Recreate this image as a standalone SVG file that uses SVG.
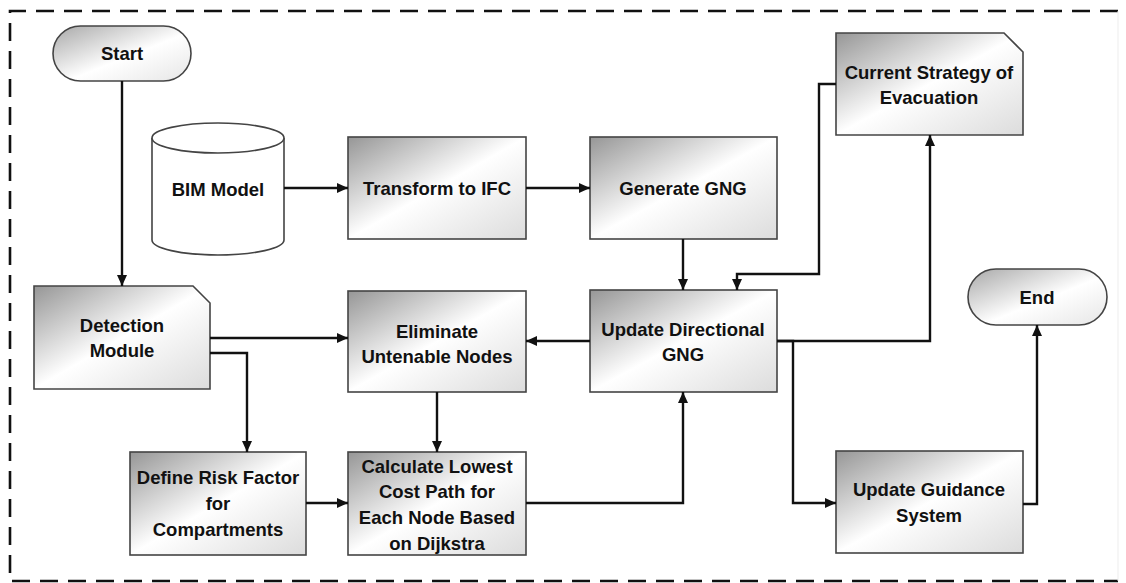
<svg xmlns="http://www.w3.org/2000/svg" width="1126" height="583" viewBox="0 0 1126 583">
<defs>
<linearGradient id="g" x1="0" y1="0" x2="1" y2="1">
<stop offset="0" stop-color="#969696"/>
<stop offset="0.5" stop-color="#ffffff"/>
<stop offset="1" stop-color="#dcdcdc"/>
</linearGradient>
<linearGradient id="gp" x1="0" y1="0" x2="1" y2="1">
<stop offset="0" stop-color="#a8a8a8"/>
<stop offset="0.55" stop-color="#ffffff"/>
<stop offset="1" stop-color="#e6e6e6"/>
</linearGradient>
<marker id="ah" markerWidth="12" markerHeight="12" refX="11" refY="6" orient="auto" markerUnits="userSpaceOnUse">
<path d="M0,1 L11,6 L0,11 Z" fill="#111"/>
</marker>
</defs>
<style>
.box{fill:url(#g);stroke:#444;stroke-width:1.6}
.pill{fill:url(#gp);stroke:#444;stroke-width:1.6}
.cyl{fill:#fff;stroke:#444;stroke-width:1.6}
.t{font-family:"Liberation Sans",Arial,sans-serif;font-weight:bold;font-size:18.5px;fill:#111;text-anchor:middle;dominant-baseline:central}
.c{fill:none;stroke:#111;stroke-width:2.4;marker-end:url(#ah)}
.border{fill:none;stroke:#111;stroke-width:2.6;stroke-dasharray:18 10}
</style>
<rect width="1126" height="583" fill="#fff"/>
<g id="frame">
<path class="border" d="M1118,11 H10 V581 H1118"/>
<line x1="1118" y1="11" x2="1118" y2="581" stroke="#ededed" stroke-width="1"/>
</g>
<g id="start">
<rect class="pill" x="53" y="26" width="138" height="55" rx="27.5"/>
<text class="t" x="122" y="53">Start</text>
</g>
<g id="bim">
<path class="cyl" d="M152,138 A66,15 0 0 1 284,138 V240 A66,15 0 0 1 152,240 Z"/>
<path class="cyl" d="M152,138 A66,15 0 0 0 284,138" fill="none"/>
<text class="t" x="218" y="189">BIM Model</text>
</g>
<g id="transform">
<rect class="box" x="348" y="137" width="178" height="102"/>
<text class="t" x="437" y="188">Transform to IFC</text>
</g>
<g id="generate">
<rect class="box" x="590" y="137" width="187" height="102"/>
<text class="t" x="683" y="188">Generate GNG</text>
</g>
<g id="strategy">
<path class="box" d="M836,33 H1004 L1023,52 V135 H836 Z"/>
<text class="t" x="929" y="72">Current Strategy of</text>
<text class="t" x="929" y="97">Evacuation</text>
</g>
<g id="detection">
<path class="box" d="M34,286 H193 L210,303 V389 H34 Z"/>
<text class="t" x="122" y="325">Detection</text>
<text class="t" x="122" y="350">Module</text>
</g>
<g id="eliminate">
<rect class="box" x="348" y="291" width="178" height="101"/>
<text class="t" x="437" y="331">Eliminate</text>
<text class="t" x="437" y="356">Untenable Nodes</text>
</g>
<g id="updatedir">
<rect class="box" x="590" y="290" width="187" height="102"/>
<text class="t" x="683" y="329">Update Directional</text>
<text class="t" x="683" y="354">GNG</text>
</g>
<g id="end">
<rect class="pill" x="968" y="269" width="139" height="56" rx="28"/>
<text class="t" x="1037" y="297">End</text>
</g>
<g id="define">
<rect class="box" x="130" y="452" width="176" height="103"/>
<text class="t" x="218" y="477">Define Risk Factor</text>
<text class="t" x="218" y="503">for</text>
<text class="t" x="218" y="529">Compartments</text>
</g>
<g id="calculate">
<rect class="box" x="348" y="452" width="178" height="103"/>
<text class="t" x="437" y="466">Calculate Lowest</text>
<text class="t" x="437" y="491">Cost Path for</text>
<text class="t" x="437" y="517">Each Node Based</text>
<text class="t" x="437" y="543">on Dijkstra</text>
</g>
<g id="guidance">
<rect class="box" x="836" y="451" width="187" height="102"/>
<text class="t" x="929" y="489">Update Guidance</text>
<text class="t" x="929" y="515">System</text>
</g>
<g id="connectors">
<path class="c" d="M122,81 V286"/>
<path class="c" d="M284,188 H348"/>
<path class="c" d="M526,188 H590"/>
<path class="c" d="M683,239 V290"/>
<path class="c" d="M836,84 H819 V274 H737 V290"/>
<path class="c" d="M210,338 H348"/>
<path class="c" d="M210,353 H247 V452"/>
<path class="c" d="M590,341 H526"/>
<path class="c" d="M437,392 V452"/>
<path class="c" d="M306,503 H348"/>
<path class="c" d="M526,503 H683 V392"/>
<path class="c" d="M777,341 H930 V135"/>
<path class="c" d="M777,341 H793 V503 H836"/>
<path class="c" d="M1023,504 H1037 V325"/>
</g>
</svg>
